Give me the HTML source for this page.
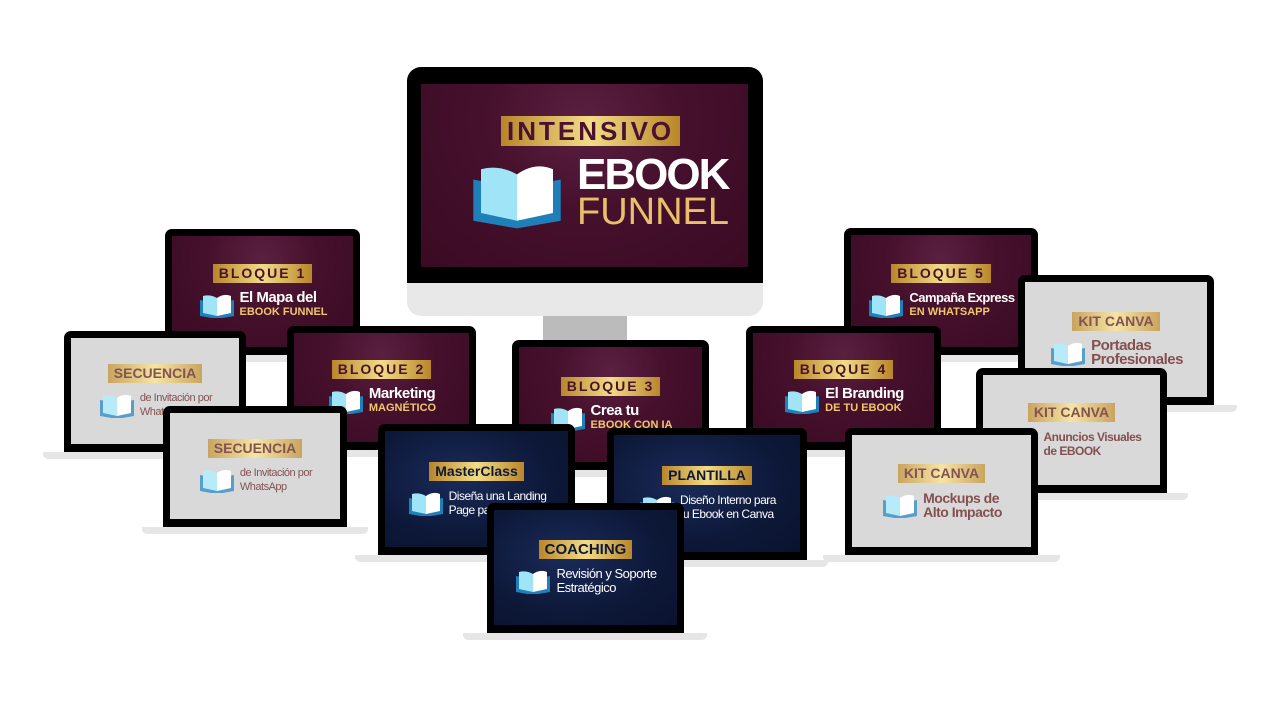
<!DOCTYPE html>
<html><head><meta charset="utf-8"><style>
body{margin:0;width:1280px;height:720px;background:#fff;position:relative;overflow:hidden;font-family:"Liberation Sans",sans-serif}
.a{position:absolute}
.lap{position:absolute;background:#000;border-radius:7px 7px 0 0}
.scr{position:absolute;left:7px;right:7px;top:7px;bottom:8px;display:flex;flex-direction:column;align-items:center;justify-content:center;overflow:hidden}
.m{background:radial-gradient(ellipse at 50% 20%,#5b2040 0%,#45102c 45%,#3a0a22 100%)}
.g{background:#cdcdcd}
.b{background:radial-gradient(ellipse at 40% 40%,#1a2b5a 0%,#0d1838 60%,#0a1230 100%)}
.base{position:absolute;height:7px;background:#e6e6e6;border-radius:0 0 5px 5px}
.lbl{background:linear-gradient(90deg,#b8862a,#f3dc86 50%,#b8862a);font-weight:bold;padding:1px 6px;font-size:14px;letter-spacing:2px;color:#4a1230;line-height:17px}
.b .lbl{color:#0d1838;letter-spacing:0}
.g .lbl{color:#5a1818;letter-spacing:0}
.row{display:flex;align-items:center;margin-top:8px}
.t{font-size:15px;font-weight:bold;color:#fff;line-height:14px;letter-spacing:-0.5px}
.t small{display:block;font-size:11px;color:#f0c86a;letter-spacing:0}
.g .t{color:#5a1414;font-size:13px}
.b .t{font-size:12px;font-weight:normal}
svg.bk{width:38px;height:26px;margin-right:4px}
.fade{position:absolute;inset:0;background:rgba(255,255,255,.25)}
</style></head><body>
<svg width="0" height="0" style="position:absolute"><defs><g id="book"><path d="M2 24 L19 27 L36 24 L36 8 L19 11 L2 8Z" fill="#1f7fb8"/><path d="M5 21 L19 24 L19 6 Q12 2 5 4Z" fill="#9fe4f7"/><path d="M19 24 L33 21 L33 4 Q26 1 19 6Z" fill="#fff"/></g></defs></svg>

<!-- monitor -->
<div class="a" style="left:543px;top:314px;width:84px;height:28px;background:#bbb"></div>
<div class="a" style="left:407px;top:67px;width:356px;height:249px;background:#e8e8e8;border-radius:14px"></div>
<div class="a" style="left:407px;top:67px;width:356px;height:216px;background:#000;border-radius:14px 14px 0 0"></div>
<div class="a m" style="left:421px;top:84px;width:327px;height:183px">
 <div class="a lbl" style="left:80px;top:32px;font-size:26px;line-height:30px;letter-spacing:3px;padding:0 6px">INTENSIVO</div>
 <svg class="a" style="left:42px;top:75px" width="108" height="72" viewBox="0 0 38 28"><use href="#book"/></svg>
 <div class="a" style="left:156px;top:70px;color:#fff;font-weight:bold;font-size:44px;line-height:42px;letter-spacing:-2px">EBOOK</div>
 <div class="a" style="left:156px;top:108px;color:#e8c06a;font-size:38px;line-height:40px">FUNNEL</div>
</div>

<!-- B1 -->
<div class="lap" style="left:165px;top:229px;width:195px;height:126px"><div class="scr m"><div class="lbl">BLOQUE 1</div><div class="row"><svg class="bk"><use href="#book"/></svg><div class="t">El Mapa del<small>EBOOK FUNNEL</small></div></div></div></div>
<div class="base" style="left:150px;top:355px;width:225px"></div>
<!-- B5 -->
<div class="lap" style="left:844px;top:228px;width:194px;height:127px"><div class="scr m"><div class="lbl">BLOQUE 5</div><div class="row"><svg class="bk"><use href="#book"/></svg><div class="t" style="font-size:13px">Campaña Express<small>EN WHATSAPP</small></div></div></div></div>
<div class="base" style="left:828px;top:355px;width:226px"></div>
<!-- KC1 -->
<div class="lap" style="left:1018px;top:275px;width:196px;height:130px"><div class="scr g"><div class="lbl">KIT CANVA</div><div class="row"><svg class="bk"><use href="#book"/></svg><div class="t" style="font-size:15px">Portadas<br>Profesionales</div></div><div class="fade"></div></div></div>
<div class="base" style="left:1000px;top:405px;width:237px"></div>
<!-- Sec1 -->
<div class="lap" style="left:64px;top:331px;width:182px;height:121px"><div class="scr g"><div class="lbl">SECUENCIA</div><div class="row"><svg class="bk"><use href="#book"/></svg><div class="t" style="font-size:11px;font-weight:normal">de Invitación por<br>WhatsApp</div></div><div class="fade"></div></div></div>
<div class="base" style="left:43px;top:452px;width:222px"></div>
<!-- B2 -->
<div class="lap" style="left:287px;top:326px;width:189px;height:124px"><div class="scr m"><div class="lbl">BLOQUE 2</div><div class="row"><svg class="bk"><use href="#book"/></svg><div class="t">Marketing<small>MAGNÉTICO</small></div></div></div></div>
<div class="base" style="left:270px;top:450px;width:222px"></div>
<!-- B4 -->
<div class="lap" style="left:746px;top:326px;width:195px;height:124px"><div class="scr m"><div class="lbl">BLOQUE 4</div><div class="row"><svg class="bk"><use href="#book"/></svg><div class="t">El Branding<small>DE TU EBOOK</small></div></div></div></div>
<div class="base" style="left:730px;top:450px;width:227px"></div>
<!-- B3 -->
<div class="lap" style="left:512px;top:340px;width:197px;height:130px"><div class="scr m"><div class="lbl">BLOQUE 3</div><div class="row"><svg class="bk"><use href="#book"/></svg><div class="t">Crea tu<small>EBOOK CON IA</small></div></div></div></div>
<div class="base" style="left:495px;top:470px;width:231px"></div>
<!-- KC2 -->
<div class="lap" style="left:976px;top:368px;width:191px;height:125px"><div class="scr g"><div class="lbl">KIT CANVA</div><div class="row"><svg class="bk"><use href="#book"/></svg><div class="t" style="font-size:12px">Anuncios Visuales<br>de EBOOK</div></div><div class="fade"></div></div></div>
<div class="base" style="left:955px;top:493px;width:233px"></div>
<!-- Sec2 -->
<div class="lap" style="left:163px;top:406px;width:184px;height:121px"><div class="scr g"><div class="lbl">SECUENCIA</div><div class="row"><svg class="bk"><use href="#book"/></svg><div class="t" style="font-size:11px;font-weight:normal">de Invitación por<br>WhatsApp</div></div><div class="fade"></div></div></div>
<div class="base" style="left:142px;top:527px;width:226px"></div>
<!-- MC -->
<div class="lap" style="left:378px;top:424px;width:197px;height:131px"><div class="scr b"><div class="lbl">MasterClass</div><div class="row"><svg class="bk"><use href="#book"/></svg><div class="t">Diseña una Landing<br>Page para tu Ebook</div></div></div></div>
<div class="base" style="left:355px;top:555px;width:242px"></div>
<!-- PL -->
<div class="lap" style="left:607px;top:428px;width:200px;height:132px"><div class="scr b"><div class="lbl">PLANTILLA</div><div class="row"><svg class="bk"><use href="#book"/></svg><div class="t">Diseño Interno para<br>tu Ebook en Canva</div></div></div></div>
<div class="base" style="left:585px;top:560px;width:243px"></div>
<!-- KC3 -->
<div class="lap" style="left:845px;top:428px;width:193px;height:127px"><div class="scr g"><div class="lbl">KIT CANVA</div><div class="row"><svg class="bk"><use href="#book"/></svg><div class="t" style="font-size:14px">Mockups de<br>Alto Impacto</div></div><div class="fade"></div></div></div>
<div class="base" style="left:823px;top:555px;width:237px"></div>
<!-- CO -->
<div class="lap" style="left:487px;top:503px;width:197px;height:130px"><div class="scr b"><div class="lbl" style="font-size:15px">COACHING</div><div class="row"><svg class="bk"><use href="#book"/></svg><div class="t" style="font-size:13px">Revisión y Soporte<br>Estratégico</div></div></div></div>
<div class="base" style="left:463px;top:633px;width:244px"></div>
</body></html>
